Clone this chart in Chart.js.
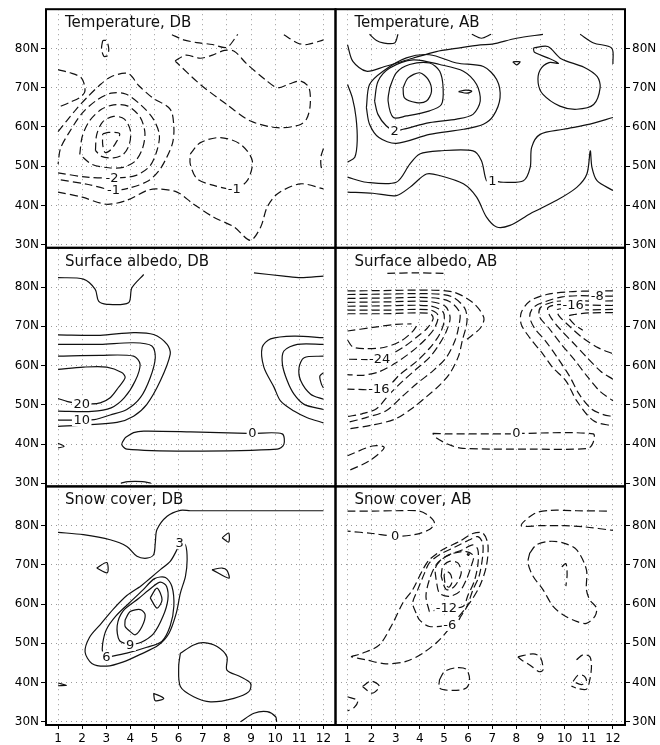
<!DOCTYPE html>
<html>
<head>
<meta charset="utf-8">
<title>Contours DB / AB</title>
<script src="https://cdn.jsdelivr.net/npm/chart.js@4.4.1/dist/chart.umd.min.js"></script>
<style>
  html, body { margin: 0; padding: 0; background: #fff; }
  #wrap { width: 660px; height: 745px; }
</style>
</head>
<body>
<div id="wrap"><canvas id="chart" width="660" height="745"></canvas></div>
<script>
const months = [1, 2, 3, 4, 5, 6, 7, 8, 9, 10, 11, 12];
const latTicks = [30, 40, 50, 60, 70, 80];
const panelTitles = [
  'Temperature, DB', 'Temperature, AB',
  'Surface albedo, DB', 'Surface albedo, AB',
  'Snow cover, DB', 'Snow cover, AB'
];

// contour lines as [month, latitude]; level < 0 is drawn dashed
const tempDB = [
  { level: -0.5, pts: [[2.85,82],[2.8,80],[2.9,78],[3.05,78.2],[3.1,80],[3.0,82],[2.85,82]] },
  { level: -0.5, pts: [[1,74.6],[1.5,73.8],[1.95,72.6],[2.1,70.5],[2.1,68.8],[1.9,67.5],[1.5,66.3],[1,65]] },
  { level: -3.5, pts: [[2.85,58.2],[3.1,58.6],[3.55,58.3],[3.4,56],[3.15,54],[2.95,53.5],[2.85,55.5],[2.85,58.2]] },
  { level: -3, pts: [[2.55,54],[2.6,58],[2.85,61.3],[3.3,62.7],[3.75,62],[4.0,59],[3.95,55.5],[3.7,53],[3.3,52.1],[2.8,52.5],[2.55,54]] },
  { level: -2.5, pts: [[1.9,53],[2.0,57.5],[2.3,61.5],[2.8,64.5],[3.3,65.6],[3.9,65.3],[4.4,62.5],[4.6,58.5],[4.5,54.5],[4.2,51.3],[3.7,49.7],[3.1,49.6],[2.4,50.5],[1.9,53]] },
  { level: -2, label: [3.24,47.0,'-2'], pts: [[1,48.3],[2.2,47.2],[3.24,47.0],[4.2,47.6],[4.8,50],[5.1,54],[5.2,58],[4.95,62],[4.45,65.5],[3.8,68.4],[3.2,68.6],[2.6,66.8],[2.0,63.5],[1.45,58.5],[1.1,54.5],[1,50.5]] },
  { level: -1, label: [3.3,43.9,'-1'], pts: [[1,58.8],[1.35,61.5],[1.75,64.5],[2.2,67.5],[2.7,70.5],[3.2,72.8],[3.9,73.6],[4.35,70.5],[4.9,67.5],[5.65,64.5],[5.8,60],[5.75,56],[5.5,52.2],[5.2,49],[4.75,46.3],[4.0,44.5],[3.3,43.9],[2.2,45.4],[1,46.6]] },
  { level: -0.5, pts: [[1,43.4],[2.0,42.1],[3.0,40.3],[3.85,41.3],[4.68,43.8],[5.1,44.2],[5.93,43.4],[6.6,40.4],[7.45,37],[8.3,34.5],[8.97,31.1],[9.4,34.5],[9.67,39.6],[10.1,43],[11.05,45.5],[12,44.2]] },
  { level: -0.5, pts: [[5.85,76.8],[6.3,78.3],[6.9,77.5],[7.4,78.3],[7.9,79.5],[8.3,79.3],[8.8,76.2],[9.6,72],[10.1,70],[10.6,71],[11.05,71.7],[11.4,70],[11.45,65.5],[11.3,62],[11.0,60.5],[10.1,59.8],[8.98,61.5],[8.0,65.7],[6.9,70.8],[5.85,76.8]] },
  { level: -0.5, pts: [[5.72,83.5],[6.2,82.2],[6.75,81.5],[7.4,81.0],[8.0,80.3],[8.45,83.6]] },
  { level: -0.5, pts: [[10.36,83.5],[10.92,81.4],[11.33,81],[12,82.2]] },
  { level: -0.5, pts: [[12,54.5],[11.9,52.5],[11.9,50],[12,48.5]] },
  { level: -1, label: [8.3,44.2,'-1'], pts: [[6.48,53.1],[6.9,56],[7.73,57.3],[8.56,55.6],[9.05,51.4],[8.84,46.3],[8.3,44.2],[7.45,45.1],[6.76,46.8],[6.48,50.5],[6.48,53.1]] }
];

const tempAB = [
  { level: 0.5, pts: [[1.91,83.6],[2.2,82],[2.47,81.4],[2.95,81.4],[3.09,83.6]] },
  { level: 0.5, pts: [[6.15,83.6],[6.55,82.6],[6.95,83.6]] },
  { level: 0.5, pts: [[1,80.9],[1.22,76.7],[1.78,74.2],[2.54,75.4],[3.7,77.5],[4.68,79.2],[5.5,80],[6.5,80.9],[7.0,81.1],[8.0,82.6],[9.1,83.6]] },
  { level: 0.5, pts: [[10.64,83.6],[11.2,81.4],[11.95,80.1],[12,76]] },
  { level: 0.5, pts: [[8.7,80.1],[9.3,80.5],[9.85,77.4],[10.8,75.2],[11.35,72.8],[11.47,70],[11.2,65.7],[10.5,64.5],[9.8,65.3],[9.1,68.3],[8.9,71.2],[8.98,74.5],[9.35,76.4],[9.74,76.2],[9.3,77.6],[8.75,79],[8.7,80.1]] },
  { level: 1, pts: [[7.85,76.6],[8.15,76.6],[8.0,75.8],[7.85,76.6]] },
  { level: 2, pts: [[5.6,69],[5.9,69.4],[6.15,69.1],[5.95,68.6],[5.6,69]] },
  { level: 3, pts: [[3.3,70],[3.51,72.5],[3.99,73.8],[4.34,72.1],[4.48,69.1],[4.27,66.6],[3.85,66.2],[3.36,67.4],[3.3,70]] },
  { level: 2.5, pts: [[2.75,70],[3.02,73.8],[3.57,75.9],[4.4,76.3],[4.82,74.2],[4.96,70],[4.89,65.7],[4.4,64.1],[3.44,62.8],[2.9,62.4],[2.68,66.6],[2.75,70]] },
  { level: 2, label: [2.95,59.0,'2'], pts: [[2.12,66.6],[2.26,71.6],[2.75,75],[3.72,77.1],[4.82,75.9],[5.8,74.2],[6.35,70.8],[6.5,66.6],[6.2,63.2],[5.52,62],[4.4,61.1],[3.3,59.4],[2.95,59.0],[2.6,60.3],[2.26,63.2],[2.12,66.6]] },
  { level: 1.5, pts: [[1.78,64.9],[1.91,70.8],[2.47,74.2],[3.44,77.6],[4.4,78.4],[5.52,76.3],[6.63,75.4],[7.18,72.1],[7.32,67.4],[7.04,62.8],[6.63,60.7],[5.8,59.4],[4.4,58.1],[3.02,55.8],[2.3,57.3],[1.91,60.7],[1.78,64.9]] },
  { level: 1, pts: [[1,70.8],[1.2,67.4],[1.35,62.4],[1.4,56.5],[1.3,52.3],[1.0,51]] },
  { level: 1, label: [7.0,46.3,'1'], pts: [[1,47.2],[1.78,45.9],[3.02,45.9],[3.58,50.5],[3.99,53.1],[4.82,53.9],[6.2,53.9],[6.55,51.4],[6.76,46.3],[7.0,46.3],[7.45,45.9],[8.29,46.3],[8.57,49.7],[8.63,54.8],[8.98,58.1],[9.95,59.4],[11.05,60.7],[12,62.4]] },
  { level: 0.5, pts: [[1,43.4],[2.05,43.1],[3.02,42.5],[3.58,44.6],[4.27,48],[4.82,47.6],[5.8,45.5],[6.35,42.1],[6.76,37],[7.18,34.5],[7.73,34.9],[8.57,37.9],[9.67,41.3],[10.5,44.6],[10.92,48],[11.06,53.9],[11.13,49.7],[11.34,46.3],[12,43.8]] }
];

const albedoDB = [
  { level: 5, pts: [[1,82.4],[2.05,82],[2.54,79.4],[2.68,76.4],[3.02,75.6],[3.92,76],[4.06,79.8],[4.55,83.2]] },
  { level: 5, pts: [[9.12,83.6],[10.36,82.8],[11.06,82.4],[12,82.8]] },
  { level: 5, pts: [[1,67.8],[2.75,67.7],[4.13,68.4],[4.96,67.9],[5.52,65.4],[5.65,62.9],[5.24,56.1],[4.68,50.1],[4.13,47.1],[3.44,45.5],[2.19,44.9],[1,44.5]] },
  { level: 10, label: [1.98,46.1,'10'], pts: [[1,65.4],[2.75,65.4],[4.13,65.8],[4.89,65],[5.03,62],[4.82,56.9],[4.41,51.8],[3.85,48.8],[3.16,47.4],[2.5,46.2],[1.98,46.1],[1,46.1]] },
  { level: 15, pts: [[1,62.4],[2.75,62.6],[4.13,62.4],[4.4,60.3],[4.2,56.1],[3.75,51.8],[3.2,49.2],[2.4,48.3],[1,48.4]] },
  { level: 20, label: [1.98,50.2,'20'], pts: [[1,59],[2.05,59.6],[3.02,59.6],[3.64,58.2],[3.78,56.9],[3.5,54.4],[3.16,51.8],[2.75,50.5],[2.3,50.2],[1.98,50.2],[1.4,50.8],[1,51.6]] },
  { level: 5, pts: [[12,67.1],[10.78,67.5],[9.81,66.8],[9.46,64.6],[9.53,59.6],[9.95,54.5],[10.22,51],[10.78,48.4],[11.33,46.7],[12,45.4]] },
  { level: 10, pts: [[12,65.4],[10.92,65.4],[10.36,63.7],[10.3,60.3],[10.5,56.1],[10.78,52.7],[11.2,50.1],[12,48.8]] },
  { level: 15, pts: [[12,62.4],[11.2,62],[10.99,59.5],[11.06,56.1],[11.47,52.7],[12,51.4]] },
  { level: 20, pts: [[12,58.2],[11.85,57.3],[11.92,55.2],[12,54.3]] },
  { level: 0, label: [9.05,42.7,'0'], pts: [[3.78,41.6],[4.13,42.9],[4.55,43.3],[6.5,43.1],[8.84,42.7],[9.05,42.7],[10.29,42.6],[10.36,39.9],[10.09,38.7],[6.35,38.2],[3.85,38.7],[3.64,39.9],[3.78,41.6]] },
  { level: 5, pts: [[1,40.2],[1.25,39.4],[1,39.0]] },
  { level: 5, pts: [[3.6,30],[3.9,30.4],[4.5,30.4],[4.85,30]] }
];

const albedoAB = [
  { level: -2, pts: [[2.65,83.5],[3.8,83.6],[5.0,83.5]] },
  { level: -4, pts: [[1,79.0],[2.5,79.1],[4.4,79.2],[5.4,78.7],[6.2,76.0],[6.65,72.2],[6.5,69.5],[5.95,66.7]] },
  { level: -8, pts: [[1,78.1],[2.5,78.2],[4.4,78.3],[5.3,77.6],[5.85,74.7],[5.95,71.3],[5.75,66.2],[5.6,62.4],[5.25,58.1],[4.85,55.2],[4.3,52.2],[3.7,49.2],[2.95,46.3],[2.0,44.8],[1,43.8]] },
  { level: -12, pts: [[1,77.1],[2.5,77.2],[4.4,77.3],[5.2,76.4],[5.65,73.5],[5.6,69.7],[5.45,66.3],[5.1,62.1],[4.55,58.7],[3.85,55.3],[3.3,52.3],[2.6,48.5],[1.8,46.8],[1,45.5]] },
  { level: -14, pts: [[1,76.1],[2.5,76.2],[4.4,76.3],[5.05,75.1],[5.25,72.2],[5.1,68.8],[4.8,65.4],[4.4,62.1],[3.85,59.1],[3.3,56.1],[2.75,52.8],[2.2,49],[1.6,47.7],[1,47.0]] },
  { level: -16, label: [2.3,53.9,'-16'], pts: [[1,75.1],[2.5,75.2],[4.4,75.2],[4.95,73.7],[5.0,71.1],[4.8,67.8],[4.4,64.4],[3.85,61.0],[3.15,57.6],[2.75,55.1],[2.3,53.9],[1,54.0]] },
  { level: -20, pts: [[1,74.1],[2.5,74.1],[4.4,74.2],[4.75,72.8],[4.6,69.5],[4.2,66.5],[3.65,63.5],[2.95,60.5],[2.3,58.4],[1.6,57.5],[1,57.7]] },
  { level: -24, label: [2.33,61.6,'-24'], pts: [[1,73.2],[2.5,73.2],[4.4,73.3],[4.55,72.0],[4.3,69.5],[3.9,67.4],[3.35,64.8],[2.7,62.5],[2.33,61.6],[1,61.6]] },
  { level: -26, pts: [[1,66.5],[1.2,64.8],[1.7,64.3],[2.5,64.6],[3.2,66.2],[3.7,68.7],[3.95,71.0]] },
  { level: -28, pts: [[1,68.8],[2.05,69.7],[3.0,70.5],[3.65,70.6]] },
  { level: -4, pts: [[1,37],[2.04,39.5],[2.52,39.1],[1.9,35.7],[1,33.1]] },
  { level: -4, pts: [[12,79.0],[11.3,79.0],[10.2,78.8],[9.25,78.1],[8.55,76.4],[8.2,73.5],[8.2,70.5],[8.55,67.1],[9.1,62.9],[9.5,59.5],[10.05,56.1],[10.5,51.0],[11.2,45.9],[12,44.6]] },
  { level: -8, label: [11.35,77.7,'-8'], pts: [[12,77.7],[11.35,77.7],[10.6,77.8],[9.9,77.5],[9.2,76.3],[8.7,74.8],[8.55,72.5],[8.75,69.5],[9.2,66.3],[9.7,62],[10.2,57.3],[10.6,52.7],[11.1,49],[11.6,47.5],[12,47]] },
  { level: -12, pts: [[12,76.5],[11.3,76.4],[10.4,76.5],[9.6,76.3],[9.0,74.8],[8.95,72.5],[9.35,69.5],[9.85,65.5],[10.4,61.5],[10.9,57.5],[11.45,53.5],[12,51]] },
  { level: -16, label: [10.35,75.5,'-16'], pts: [[12,75.3],[11.0,75.4],[10.35,75.5],[9.7,75.5],[9.3,74.7],[9.4,72.5],[9.85,69.0],[10.35,65.8],[10.9,62.2],[11.5,58.5],[12,56.5]] },
  { level: -20, pts: [[12,74.3],[11.0,74.2],[10.2,74.4],[9.7,74.3],[9.75,72.8],[10.2,70],[10.8,66.8],[11.4,64.5],[12,63.0]] },
  { level: -24, pts: [[12,73.5],[11.0,73.4],[10.4,73.0],[10.15,72.5],[10.4,70.5],[10.75,69]] },
  { level: -0.1, label: [8.0,42.7,'0'], pts: [[4.53,42.7],[5.09,42.6],[7.72,42.6],[8.0,42.7],[11.18,42.6],[11.18,40.4],[10.97,38.9],[8.55,38.7],[5.78,38.9],[5.22,39.8],[4.67,41.6],[4.53,42.7]] }
];

const snowDB = [
  { level: 3, pts: [[1,78.3],[2.05,77.7],[3.16,76.4],[3.85,74.7],[4.27,72.2],[4.68,71.7],[4.96,72.6],[5.03,75.6],[5.1,79],[5.52,82.4],[6.07,83.9],[6.48,83.8],[12,83.8]] },
  { level: 3, label: [6.04,75.6,'3'], pts: [[4.41,64.5],[4.82,66.6],[5.24,68.8],[5.65,70.9],[5.93,73.9],[6.04,75.6],[6.28,75.1],[6.35,71.3],[6.28,67.1],[6.07,62.8],[5.9,57.7],[5.6,52.6],[5.15,49.5],[4.41,47.2],[3.71,45.3],[3.02,44.2],[2.4,44.9],[2.12,47.8],[2.3,51.5],[2.75,54.8],[3.3,58.8],[3.85,62.2],[4.41,64.5]] },
  { level: 6, label: [3.0,46.4,'6'], pts: [[3.0,46.4],[3.85,47.5],[4.68,49.0],[5.3,50.5],[5.65,54.5],[5.8,59.5],[5.72,64.5],[5.45,66.8],[5.0,66.5],[4.5,63.5],[3.95,60.3],[3.4,57],[3.0,53.5],[2.85,50],[2.85,47.5],[3.0,46.4]] },
  { level: 9, label: [3.99,49.6,'9'], pts: [[3.99,49.6],[3.55,50.7],[3.45,54.5],[3.7,58.3],[4.35,61.5],[4.9,64.3],[5.24,65.6],[5.5,64.5],[5.55,61.1],[5.35,56.9],[4.96,52.5],[4.45,50.3],[3.99,49.6]] },
  { level: 12, pts: [[3.78,56],[3.99,58.1],[4.41,58.6],[4.61,57.3],[4.48,54.3],[4.2,52.2],[3.99,53.0],[3.78,54.3],[3.78,56]] },
  { level: 12, pts: [[4.82,61.6],[5.1,64.1],[5.31,61.1],[5.1,59.0],[4.82,61.6]] },
  { level: 3, pts: [[2.6,69.2],[3.02,70.6],[3.04,68.0],[2.6,69.2]] },
  { level: 3, pts: [[7.8,76.9],[8.07,78.1],[8.07,75.8],[7.8,76.9]] },
  { level: 3, pts: [[7.38,68.8],[7.8,69.2],[8.0,68.6],[8.08,66.6],[7.38,68.8]] },
  { level: 3, pts: [[6.07,47.5],[6.62,49.6],[7.04,50.2],[7.59,49.2],[8.0,46.6],[8.0,43.2],[8.56,41.5],[8.98,39.8],[8.91,37.7],[8.29,36.0],[7.32,35.1],[6.62,36.4],[6.07,39.0],[6.0,44.1],[6.07,47.5]] },
  { level: 3, pts: [[4.96,37.3],[5.38,36],[5.03,35.4],[4.96,37.3]] },
  { level: 3, pts: [[8.56,30],[9.12,32.2],[9.67,32.6],[10.02,31.3],[10.06,30]] },
  { level: 3, pts: [[1,39.9],[1.35,39.3],[1,39.2]] }
];

const snowAB = [
  { level: -0.1, label: [2.97,77.3,'0'], pts: [[1,83.7],[2.04,83.7],[3.0,83.8],[3.98,83.7],[4.39,82.4],[4.6,80.7],[4.39,79],[3.77,77.7],[2.97,77.3],[2.04,78],[1,78.6]] },
  { level: -0.1, pts: [[11.75,83.7],[10.5,83.8],[9.4,83.9],[8.75,83.1],[8.2,80.0],[9.0,80.0],[10.0,80.0],[10.8,79.7],[12,78.8]] },
  { level: -3, pts: [[8.55,73],[8.83,75.1],[9.38,76],[9.93,75.6],[10.49,73.9],[10.9,68.8],[10.9,63.7],[11.04,61.1],[11.32,59],[11.25,56.9],[10.9,55.1],[10.49,55.6],[9.93,57.3],[9.52,59.4],[9.1,63.7],[8.69,67.1],[8.48,70.5],[8.55,73]] },
  { level: -6, pts: [[9.88,69.5],[10.05,70.3],[10.1,67.5],[10.05,64.6]] },
  { level: -3, pts: [[1.14,46.6],[1.62,47.5],[2.32,49.6],[2.87,55.1],[3.29,60.3],[3.7,63.7],[4.12,68.8],[4.39,71.3],[4.95,73.9],[5.64,76],[6.19,78],[6.61,78.1],[6.82,75.1],[6.75,69.6],[6.47,64.5],[6.06,60.3],[5.5,56],[4.81,50.9],[4.12,47.5],[3.42,45.4],[2.59,44.8],[1.76,45.8],[1.14,46.6]] },
  { level: -6, label: [5.24,54.7,'-6'], pts: [[3.84,57.7],[3.7,60.3],[3.91,63.7],[4.19,67.9],[4.39,70.5],[4.81,72.6],[5.5,74.7],[6.06,76.4],[6.4,77.2],[6.6,75.6],[6.6,72.2],[6.45,67.1],[6.2,63.7],[5.95,59.4],[5.7,56.9],[5.5,55.1],[5.24,54.7],[4.39,54.3],[3.98,56],[3.84,57.7]] },
  { level: -12, label: [5.1,59.0,'-12'], pts: [[4.39,58.1],[4.25,62.0],[4.39,66.2],[4.67,70.0],[5.08,72.2],[5.78,73.9],[6.19,75.1],[6.4,73.9],[6.4,70.0],[6.25,65.8],[6.0,62.4],[5.78,59.4],[5.1,59.0],[4.39,58.1]] },
  { level: -15, pts: [[4.67,66.2],[4.64,69.2],[4.88,71.3],[5.36,72.9],[5.92,73.4],[6.22,72.3],[6.12,69.6],[5.92,66.2],[5.64,63.2],[5.22,62.0],[4.81,62.8],[4.67,66.2]] },
  { level: -18, pts: [[4.88,67.1],[4.95,69.6],[5.22,70.9],[5.57,70.5],[5.71,67.9],[5.43,64.5],[5.09,63.7],[4.88,67.1]] },
  { level: -21, pts: [[5.0,67.5],[5.05,65.2],[5.2,64.3],[5.32,65.5],[5.28,67.5],[5.12,68.3],[5.0,67.5]] },
  { level: -21, pts: [[5.95,72.8],[6.05,72.8],[6.0,72.4],[5.95,72.8]] },
  { level: -3, pts: [[4.81,40.7],[5.02,42.8],[5.5,43.8],[5.92,43.4],[6.06,40.7],[5.92,38.6],[5.36,38.0],[4.81,38.6],[4.81,40.7]] },
  { level: -3, pts: [[8.06,46.6],[8.69,47.3],[8.99,46.5],[9.1,43.2],[8.94,42.8],[8.55,44.5],[8.2,45.8],[8.06,46.6]] },
  { level: -3, pts: [[10.49,45.8],[10.76,47.1],[11.04,46.6],[11.11,44.1],[11.04,40.7],[10.9,38.3],[10.49,38.6],[10.28,39.1]] },
  { level: -6, pts: [[10.35,40.3],[10.55,41.9],[10.8,41.7],[10.9,40.5],[10.7,39.5],[10.35,40.3]] },
  { level: -3, pts: [[1.62,39],[1.97,40.4],[2.32,39],[2.01,37.3],[1.62,39]] },
  { level: -3, pts: [[1,36.4],[1.42,35.4],[1.28,33.7],[1,32.8]] }
];

const panels = [tempDB, tempAB, albedoDB, albedoAB, snowDB, snowAB];

// each panel spans 29.2N-90N, months 0.5-12.5; the six are tiled on one pair of axes
const LAT_MIN = 29.2;
const LAT_MAX = 90;
const ROW = LAT_MAX - LAT_MIN;
const Y_MAX = ROW * 3;

function place(p, m, lat) {
  const col = p % 2, row = Math.floor(p / 2);
  return { x: m + col * 12, y: lat - LAT_MIN + (2 - row) * ROW };
}

const xTicks = [];
[0, 12].forEach(off => months.forEach(m => xTicks.push(m + off)));
const yTicks = [];
[0, 1, 2].forEach(r => latTicks.forEach(l => yTicks.push(l - LAT_MIN + r * ROW)));
const latLabel = v => Math.round((v % ROW) + LAT_MIN) + 'N';

const datasets = [];
panels.forEach((lines, p) => {
  lines.forEach(c => {
    datasets.push({
      data: c.pts.map(([m, lat]) => place(p, m, lat)),
      showLine: true,
      borderColor: '#111',
      borderWidth: 1.2,
      borderDash: c.level < 0 ? [8, 4] : [],
      pointRadius: 0,
      tension: 0.3
    });
  });
});

const decorations = {
  id: 'decorations',
  afterDatasetsDraw(chart) {
    const { ctx, scales: { x, y } } = chart;
    ctx.save();
    // contour labels, masked like GrADS does
    ctx.font = '13px "DejaVu Sans"';
    ctx.textAlign = 'center';
    ctx.textBaseline = 'middle';
    panels.forEach((lines, p) => {
      lines.forEach(c => {
        if (!c.label) return;
        const [m, lat, txt] = c.label;
        const pt = place(p, m, lat);
        const px = x.getPixelForValue(pt.x), py = y.getPixelForValue(pt.y);
        const w = ctx.measureText(txt).width + 3;
        ctx.fillStyle = '#fff';
        ctx.fillRect(px - w / 2, py - 6, w, 12);
        ctx.fillStyle = '#111';
        ctx.fillText(txt, px, py + 0.5);
      });
    });
    // frames + titles
    ctx.strokeStyle = '#000';
    ctx.lineWidth = 2;
    ctx.textAlign = 'left';
    ctx.textBaseline = 'alphabetic';
    ctx.font = '15px "DejaVu Sans"';
    panelTitles.forEach((t, p) => {
      const col = p % 2, row = Math.floor(p / 2);
      const l = x.getPixelForValue(0.5 + col * 12), r = x.getPixelForValue(12.5 + col * 12);
      const top = y.getPixelForValue((3 - row) * ROW), bot = y.getPixelForValue((2 - row) * ROW);
      ctx.strokeRect(l, top, r - l, bot - top);
      ctx.fillStyle = '#111';
      ctx.fillText(t, l + 19, top + 18);
    });
    ctx.restore();
  }
};

Chart.defaults.font.family = '"DejaVu Sans"';
Chart.defaults.color = '#000';

const gridLines = { color: '#9a9a9a', lineWidth: 1, tickColor: '#000', tickBorderDash: [], drawTicks: true };

new Chart(document.getElementById('chart'), {
  type: 'scatter',
  data: { datasets },
  options: {
    responsive: false,
    animation: false,
    devicePixelRatio: 1,
    layout: { padding: { top: 7, left: 0, right: 0, bottom: 0 } },
    plugins: { legend: { display: false }, tooltip: { enabled: false } },
    scales: {
      x: {
        type: 'linear', min: 0.5, max: 24.5,
        afterBuildTicks: s => { s.ticks = xTicks.map(v => ({ value: v })); },
        afterFit: s => { s.height = 20; },
        ticks: { callback: v => months[(v - 1) % 12], autoSkip: false, maxRotation: 0, padding: 3, font: { size: 12 } },
        grid: { ...gridLines, tickLength: 4 },
        border: { display: false, dash: [1, 4] }
      },
      y: {
        type: 'linear', min: 0, max: Y_MAX, position: 'left',
        afterBuildTicks: s => { s.ticks = yTicks.map(v => ({ value: v })); },
        afterFit: s => { s.width = 46; },
        ticks: { callback: latLabel, autoSkip: false, padding: 2, font: { size: 12 } },
        grid: { ...gridLines, tickLength: 5 },
        border: { display: false, dash: [1, 4] }
      },
      y2: {
        type: 'linear', min: 0, max: Y_MAX, position: 'right',
        afterBuildTicks: s => { s.ticks = yTicks.map(v => ({ value: v })); },
        afterFit: s => { s.width = 35; },
        ticks: { callback: latLabel, autoSkip: false, padding: 2, font: { size: 12 } },
        grid: { ...gridLines, drawOnChartArea: false, tickLength: 5 },
        border: { display: false }
      }
    }
  },
  plugins: [decorations]
});
</script>
</body>
</html>
